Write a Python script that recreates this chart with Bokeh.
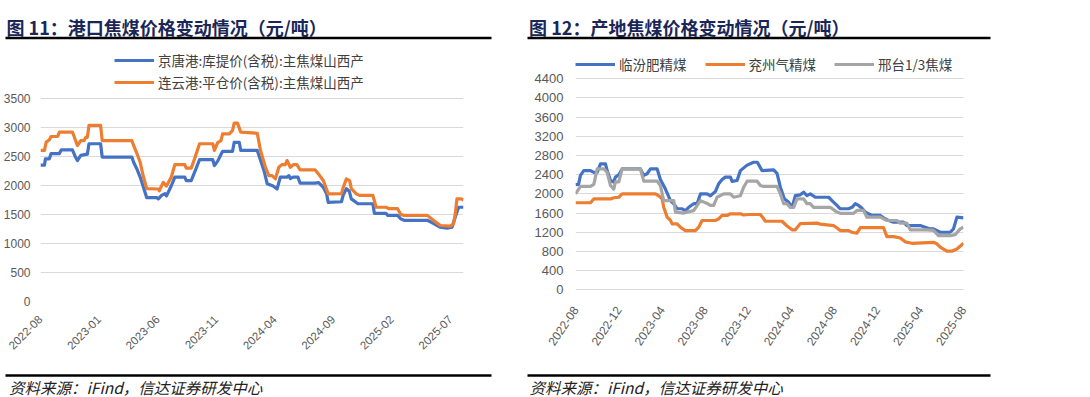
import math
from bokeh.plotting import figure
from bokeh.models import Range1d, FixedTicker, Legend, LegendItem
from bokeh.layouts import column, row
from bokeh.embed import file_html
from bokeh.resources import INLINE
from bokeh.core.properties import value

# ---------------- data (x = months elapsed since 2022-08) ----------------
# Figure 11: port coking coal prices (yuan/t)
jingtang_t = [0, 0.34, 0.42, 0.76, 0.90, 1.61, 1.78, 2.73, 2.96, 3.15, 3.44, 4.0, 4.14, 5.13, 5.27,
              7.80, 7.95, 8.22, 8.51, 8.79, 9.07, 9.92, 10.06, 10.34, 10.63, 10.76, 11.18, 11.47,
              12.32, 12.45, 12.87, 13.30, 13.58, 14.71, 14.85, 15.13, 15.55, 16.40, 16.54, 16.97,
              17.10, 18.51, 19.08, 19.36, 19.86, 20.20, 20.48, 21.05, 21.22, 21.33, 21.56, 21.98,
              22.17, 23.44, 23.75, 24.15, 24.43, 24.57, 25.70, 25.84, 26.12, 26.37, 26.54, 27.11,
              28.38, 28.51, 29.50, 29.65, 30.49, 30.77, 31.05, 33.03, 33.58, 34.15, 34.72, 35.14,
              35.42, 35.70, 36.12]
jingtang_price = [2350, 2350, 2460, 2460, 2550, 2550, 2615, 2615, 2500, 2430, 2520, 2540, 2720, 2720, 2490,
                  2490, 2400, 2290, 2145, 1970, 1790, 1790, 1770, 1830, 1860, 1820, 2000, 2145,
                  2145, 2085, 2085, 2300, 2445, 2445, 2345, 2420, 2590, 2590, 2745, 2745,
                  2605, 2605, 2260, 2030, 1990, 1940, 2145, 2145, 2170, 2120, 2145, 2145,
                  2040, 2040, 2050, 1970, 1855, 1710, 1720, 1830, 1945, 1900, 1770, 1685,
                  1685, 1520, 1520, 1485, 1485, 1425, 1400, 1400, 1345, 1280, 1265, 1280,
                  1455, 1625, 1625]
lianyun_t = [0, 0.34, 0.48, 0.76, 0.90, 1.46, 1.61, 2.73, 2.87, 3.15, 3.44, 3.72, 3.86, 4.0, 4.14,
             5.13, 5.27, 7.80, 7.95, 8.22, 8.51, 8.79, 9.07, 10.06, 10.14, 10.48, 10.76, 11.18,
             11.47, 12.32, 12.45, 12.87, 13.16, 13.58, 14.71, 14.85, 15.13, 15.41, 15.55, 16.12,
             16.40, 16.54, 16.82, 17.10, 18.51, 18.79, 19.21, 19.50, 19.78, 20.06, 20.35, 20.63,
             20.90, 21.05, 21.33, 21.61, 21.89, 22.17, 23.44, 23.73, 24.15, 24.57, 25.70, 25.84,
             26.12, 26.40, 26.54, 26.97, 27.24, 28.38, 28.66, 29.50, 29.78, 30.49, 30.77, 31.05,
             33.03, 33.58, 34.15, 34.99, 35.27, 35.42, 35.56, 35.93, 36.12]
lianyun_price = [2605, 2605, 2745, 2790, 2845, 2845, 2920, 2920, 2845, 2690, 2775, 2775, 2830, 2830, 3035,
                 3035, 2775, 2775, 2690, 2560, 2400, 2150, 1945, 1940, 1910, 2055, 1990, 2150,
                 2360, 2360, 2300, 2300, 2460, 2720, 2720, 2605, 2740, 2775, 2890, 2890,
                 2950, 3075, 3075, 2920, 2900, 2600, 2315, 2170, 2170, 2115, 2315, 2360,
                 2360, 2430, 2315, 2360, 2360, 2270, 2270, 2200, 2085, 1855, 1860, 1960,
                 2115, 2085, 1945, 1855, 1830, 1830, 1625, 1625, 1600, 1600, 1500, 1485,
                 1485, 1395, 1310, 1300, 1340, 1515, 1770, 1770, 1750]
port_tick_labels = ["2022-08", "2023-01", "2023-06", "2023-11", "2024-04", "2024-09", "2025-02", "2025-07"]
port_y_ticks = [0, 500, 1000, 1500, 2000, 2500, 3000, 3500]

# Figure 12: origin coking coal prices (yuan/t)
linfen_t = [0, 0.28, 0.46, 0.77, 1.39, 1.70, 2.01, 2.32, 2.78, 2.94, 3.25, 3.55, 3.71, 4.02, 4.33,
            6.03, 6.34, 6.65, 6.96, 7.58, 7.88, 8.35, 8.81, 9.12, 9.43, 9.90, 10.20, 10.51, 10.97,
            11.29, 11.60, 12.22, 12.52, 12.99, 13.29, 13.61, 13.91, 14.38, 14.54, 15.00, 15.31,
            15.93, 16.54, 16.88, 17.32, 18.40, 18.71, 19.02, 19.39, 19.79, 20.10, 20.41, 20.87,
            21.18, 21.49, 21.80, 22.26, 23.50, 23.81, 24.27, 24.58, 25.35, 25.67, 25.97, 26.28,
            26.60, 26.90, 27.52, 28.29, 28.60, 29.06, 29.53, 30.45, 30.77, 32.00, 32.93, 33.24,
            33.86, 34.79, 35.09, 35.41, 36.02]
linfen_price = [2195, 2200, 2385, 2485, 2485, 2450, 2450, 2625, 2625, 2485, 2280, 2245, 2350, 2400, 2520,
                2520, 2385, 2420, 2520, 2520, 2300, 2100, 1860, 1795, 1690, 1690, 1650, 1720, 1795,
                1795, 2000, 2000, 1960, 2050, 2210, 2300, 2350, 2350, 2260, 2280, 2485,
                2600, 2660, 2660, 2485, 2500, 2430, 2140, 1900, 1825, 1720, 1965, 1980,
                2035, 1965, 2000, 1930, 1930, 1860, 1760, 1690, 1690, 1720, 1795, 1760,
                1700, 1620, 1550, 1550, 1500, 1445, 1410, 1410, 1340, 1340, 1270, 1270,
                1200, 1200, 1270, 1515, 1500]
yanzhou_t = [0, 1.39, 1.70, 3.25, 3.55, 4.02, 4.33, 7.42, 7.73, 8.04, 8.19, 8.51, 8.81, 8.97, 9.43,
             9.74, 10.20, 11.13, 11.44, 11.75, 12.99, 13.29, 13.61, 14.07, 14.38, 15.31, 15.61,
             16.08, 17.16, 17.47, 17.63, 19.17, 19.64, 20.10, 20.41, 20.87, 22.42, 22.73, 23.96,
             24.28, 24.58, 25.35, 25.67, 26.13, 26.44, 28.60, 28.91, 29.53, 30.15, 30.61, 31.23,
             33.24, 33.55, 33.86, 34.48, 34.94, 35.41, 36.02]
yanzhou_price = [1815, 1815, 1895, 1895, 1920, 1930, 2000, 2000, 1960, 1900, 1720, 1515, 1450, 1375, 1375,
                 1305, 1235, 1235, 1305, 1445, 1445, 1480, 1550, 1550, 1585, 1585, 1560,
                 1570, 1570, 1480, 1430, 1430, 1330, 1250, 1250, 1380, 1390, 1370, 1340,
                 1290, 1235, 1235, 1200, 1180, 1295, 1295, 1110, 1110, 1080, 1000, 970,
                 990, 960, 890, 805, 805, 850, 970]
xingtai_t = [0, 0.46, 1.39, 1.70, 2.01, 2.63, 2.94, 3.25, 3.55, 3.71, 4.02, 4.33, 6.03, 6.34, 7.58,
             7.88, 8.19, 9.12, 9.28, 10.05, 10.36, 10.97, 11.60, 12.22, 12.52, 12.83, 13.14, 13.76,
             14.38, 14.68, 15.31, 15.61, 15.93, 16.86, 17.16, 17.47, 18.71, 19.02, 19.33, 19.64,
             19.94, 20.25, 20.57, 21.18, 21.49, 21.80, 22.11, 23.65, 24.27, 24.58, 25.82, 26.13,
             26.74, 27.06, 28.29, 28.91, 29.84, 30.15, 30.77, 31.08, 32.62, 33.24, 33.70, 34.79,
             35.25, 35.71, 36.02]
xingtai_price = [2000, 2155, 2155, 2200, 2520, 2520, 2450, 2175, 2100, 2250, 2250, 2520, 2520, 2265, 2265,
                 2175, 1860, 1860, 1620, 1600, 1620, 1650, 1860, 1800, 1760, 1760, 1930, 2000,
                 2000, 1930, 1960, 2140, 2265, 2265, 2175, 2155, 2155, 2000, 1795, 1795,
                 1720, 1720, 1895, 1895, 1795, 1795, 1720, 1720, 1620, 1595, 1595, 1655,
                 1655, 1515, 1515, 1445, 1445, 1390, 1390, 1250, 1250, 1240, 1130, 1130,
                 1150, 1270, 1305]
origin_tick_labels = ["2022-08", "2022-12", "2023-04", "2023-08", "2023-12", "2024-04",
                      "2024-08", "2024-12", "2025-04", "2025-08"]
origin_y_ticks = list(range(0, 4401, 400))

title_left = "图 11：港口焦煤价格变动情况（元/吨）"
title_right = "图 12：产地焦煤价格变动情况（元/吨）"
source_text = "资料来源：iFind，信达证券研发中心"
legend_left = ["京唐港:库提价(含税):主焦煤山西产", "连云港:平仓价(含税):主焦煤山西产"]
legend_right = ["临汾肥精煤", "兖州气精煤", "邢台1/3焦煤"]

# ---------------- styling / layout ----------------
BLUE, ORANGE, GRAY = "#4472C4", "#ED7D31", "#A5A5A5"
CJK = "Noto Sans CJK SC"
NUM = "Liberation Sans"
TITLE_COLOR = "#1a2657"
TICK_COLOR = "#595959"
LW = 3.2

W_LEFT, W_RIGHT = 523, 567
H_HEAD, H_CHART, H_FOOT = 40, 326, 31
FRAME_TOP, FRAME_BOTTOM = 6, 65       # borders of every chart canvas (frames are aligned in a row)
FRAME_TOP_PAGE = H_HEAD + FRAME_TOP
FRAME_BOTTOM_PAGE = H_HEAD + H_CHART - FRAME_BOTTOM


def month_index(label):
    y, m = label.split("-")
    return (int(y) - 2022) * 12 + int(m) - 8


def strip(width, height):
    p = figure(width=width, height=height, x_range=Range1d(0, width), y_range=Range1d(height, 0),
               output_backend="svg", toolbar_location=None, title_location=None,
               min_border=0, min_border_left=0, min_border_right=0, min_border_top=0, min_border_bottom=0)
    p.axis.visible = False
    p.grid.visible = False
    p.outline_line_color = None
    p.background_fill_color = "white"
    p.border_fill_color = "white"
    return p


def header(width, tx, lx0, lx1, text):
    p = strip(width, H_HEAD)
    p.text(x=[tx], y=[26.5], text=[text], text_font=value(CJK), text_font_size="18px",
           text_font_style="bold", text_color=TITLE_COLOR, text_baseline="middle", text_align="left")
    p.segment(x0=[lx0], y0=[37.5], x1=[lx1], y1=[37.5], line_color="black", line_width=2.5)
    return p


def footer(width, tx, lx0, lx1):
    p = strip(width, H_FOOT)
    p.segment(x0=[lx0], y0=[9], x1=[lx1], y1=[9], line_color="black", line_width=2.5)
    p.text(x=[tx], y=[20], text=[source_text], text_font=value(CJK), text_font_size="15.5px",
           text_font_style="italic", text_color="#222222", text_baseline="middle", text_align="left")
    return p


def chart(width, xs_list, ys_list, colors, labels, tick_labels, y_ticks, bl, br,
          zero_page, top_page, legend_loc, orientation, spacing, ylab_size, ylab_standoff,
          xlab_size, xlab_angle, xlab_standoff):
    # zero_page / top_page: page y of the 0 line and of the top tick line
    k = (zero_page - top_page) / (y_ticks[-1] - y_ticks[0])      # px per unit
    y_start = y_ticks[0] - (FRAME_BOTTOM_PAGE - zero_page) / k
    y_end = y_ticks[-1] + (top_page - FRAME_TOP_PAGE) / k
    xmax = max(max(xs) for xs in xs_list)
    p = figure(width=width, height=H_CHART, x_range=Range1d(0, xmax),
               y_range=Range1d(y_start, y_end), output_backend="svg",
               toolbar_location=None, title_location=None,
               min_border_left=bl, min_border_right=br, min_border_top=FRAME_TOP,
               min_border_bottom=FRAME_BOTTOM)
    p.outline_line_color = None
    p.background_fill_color = "white"
    p.border_fill_color = "white"
    renderers = []
    for xs, ys, c in zip(xs_list, ys_list, colors):
        renderers.append(p.line(x=xs, y=ys, line_color=c, line_width=LW, line_join="round"))
    p.xgrid.visible = False
    p.ygrid.grid_line_color = "#D9D9D9"
    p.ygrid.grid_line_width = 1
    p.yaxis.ticker = FixedTicker(ticks=y_ticks)
    p.xaxis.ticker = FixedTicker(ticks=[month_index(s) for s in tick_labels])
    p.xaxis.major_label_overrides = {month_index(s): s for s in tick_labels}
    p.xaxis.major_label_orientation = xlab_angle
    for ax in (p.xaxis, p.yaxis):
        ax.axis_line_color = None
        ax.major_tick_line_color = None
        ax.minor_tick_line_color = None
        ax.major_tick_out = 0
        ax.major_tick_in = 0
        ax.minor_tick_out = 0
        ax.minor_tick_in = 0
        ax.major_label_text_font = NUM
        ax.major_label_text_color = TICK_COLOR
    p.xaxis.major_label_text_font_size = xlab_size
    p.xaxis.major_label_standoff = xlab_standoff
    p.yaxis.major_label_text_font_size = ylab_size
    p.yaxis.major_label_standoff = ylab_standoff
    legend = Legend(items=[LegendItem(label=l, renderers=[r]) for l, r in zip(labels, renderers)],
                    location=legend_loc, orientation=orientation, glyph_width=40, glyph_height=20,
                    label_height=20, label_standoff=4, spacing=spacing, padding=0, margin=0,
                    border_line_color=None, background_fill_alpha=0,
                    label_text_font=CJK, label_text_font_size="13.5px", label_text_color="#404040")
    p.add_layout(legend)
    return p


left_chart = chart(W_LEFT, [jingtang_t, lianyun_t], [jingtang_price, lianyun_price], [BLUE, ORANGE],
                   legend_left, port_tick_labels, port_y_ticks, 36, 60,
                   301, 98, (74, 209), "vertical", 2, "12px", 10,
                   "11.5px", math.pi / 4, 16)
right_chart = chart(W_RIGHT, [linfen_t, yanzhou_t, xingtai_t], [linfen_price, yanzhou_price, xingtai_price],
                    [BLUE, ORANGE, GRAY], legend_right, origin_tick_labels, origin_y_ticks, 52, 127,
                    289.3, 78.3, (0, 227), "horizontal", 18, "13px", 12,
                    "12px", math.radians(56), 6)

layout = column(
    row(header(W_LEFT, 6, 5, 491, title_left), header(W_RIGHT, 5.6, 4, 467, title_right)),
    row(left_chart, right_chart),
    row(footer(W_LEFT, 8.6, 5, 491), footer(W_RIGHT, 6, 4, 467)),
)

open("out.html", "w").write(file_html(layout, INLINE))
